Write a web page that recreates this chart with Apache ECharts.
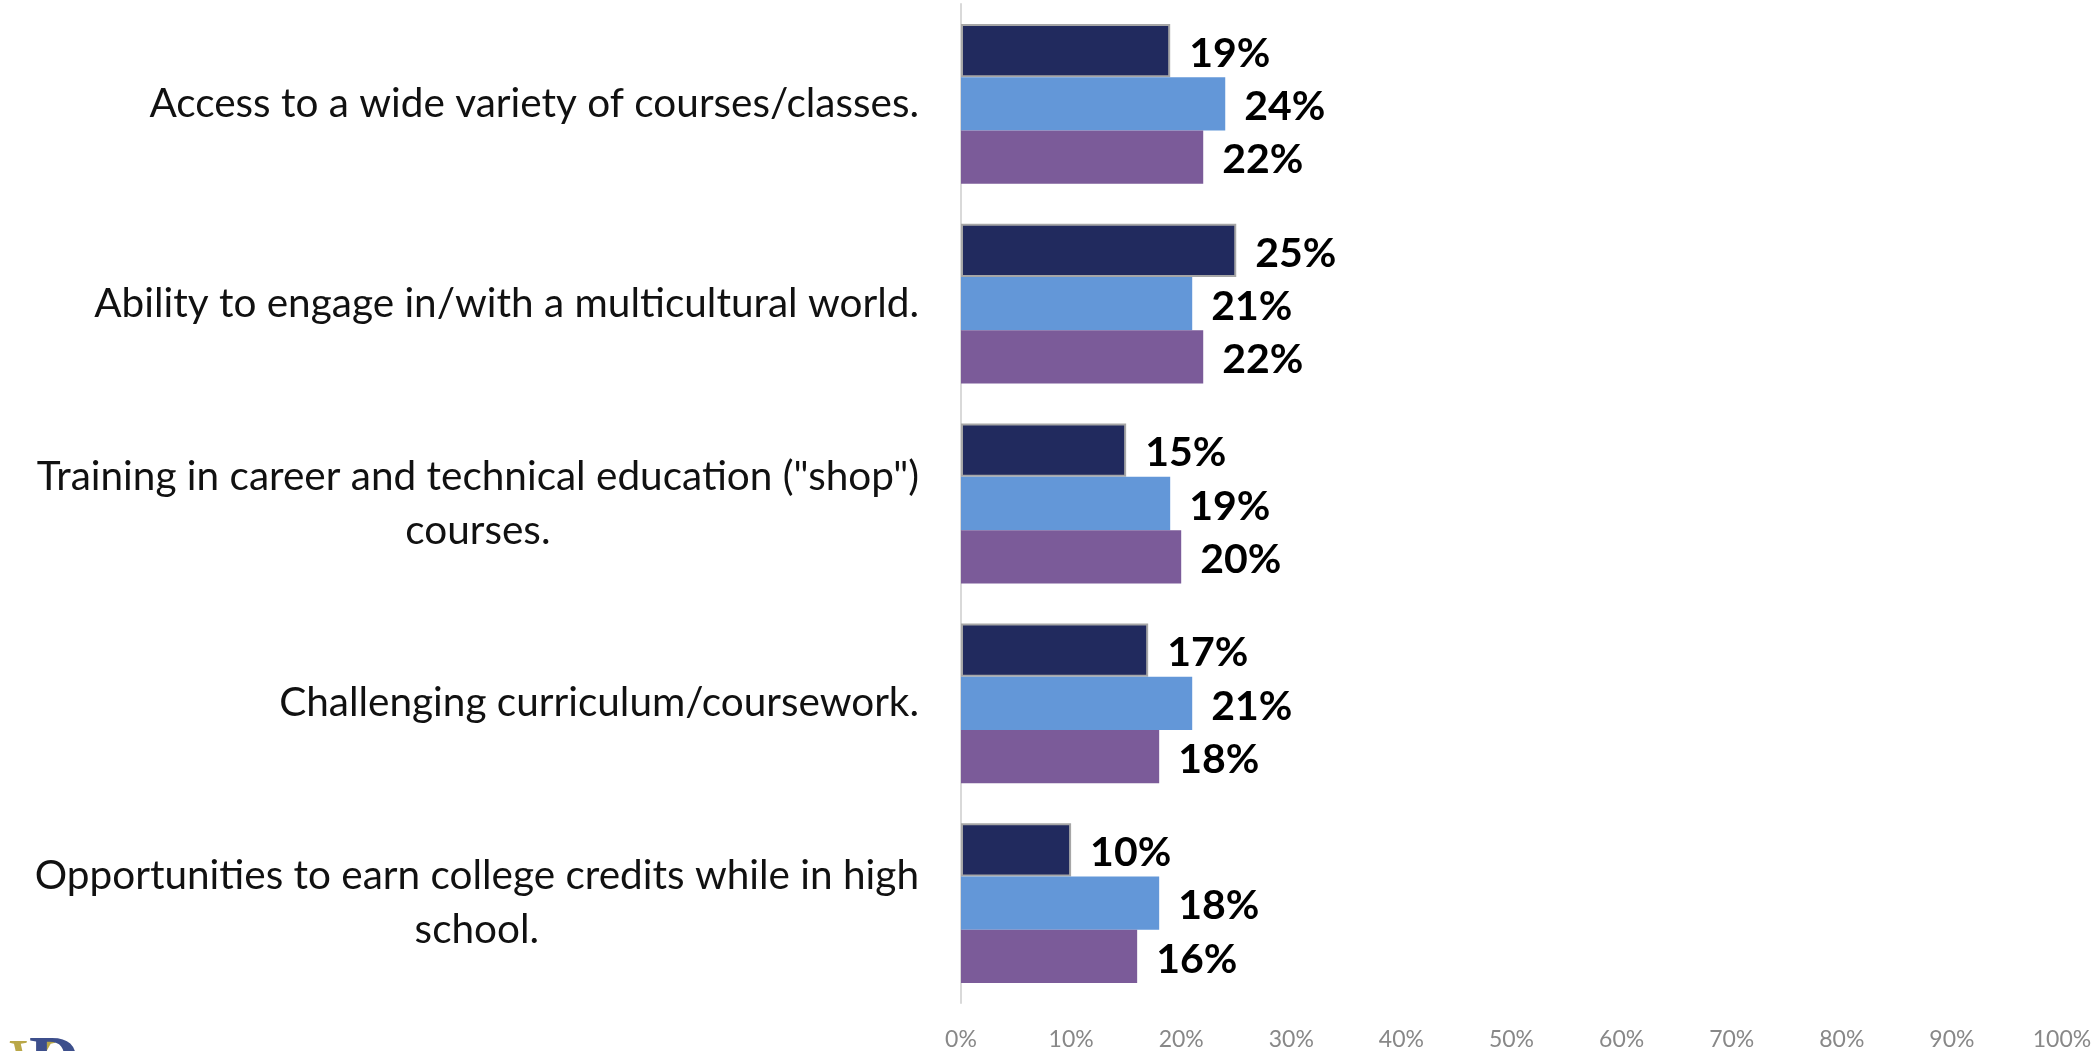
<!DOCTYPE html>
<html>
<head>
<meta charset="utf-8">
<title>School features</title>
<script src="https://cdn.jsdelivr.net/npm/echarts@6/dist/echarts.min.js"></script>
<style>
  html, body { margin: 0; padding: 0; background: #ffffff; }
  #chart { width: 2100px; height: 1051px; }
</style>
</head>
<body>
<div id="chart"></div>
<script>
// Survey items, listed top to bottom
const categories = [
  'Access to a wide variety of courses/classes.',
  'Ability to engage in/with a multicultural world.',
  'Training in career and technical education ("shop")\ncourses.',
  'Challenging curriculum/coursework.',
  'Opportunities to earn college credits while in high\nschool.'
];

// Percent of respondents, one array per group
const seriesA = [19, 25, 15, 17, 10];
const seriesB = [24, 21, 19, 21, 18];
const seriesC = [22, 22, 20, 18, 16];

const axisMin = 0;
const axisMax = 100;
const axisStep = 10;

const FONT = 'Lato';

const chart = echarts.init(document.getElementById('chart'), null, { renderer: 'canvas' });

function barSeries(name, data, color, extra) {
  return Object.assign({
    name: name,
    type: 'bar',
    data: data,
    barGap: '0%',
    barCategoryGap: '20%',
    itemStyle: { color: color },
    label: {
      show: true,
      position: 'right',
      distance: 19,
      offset: [0, 3],
      formatter: '{c}%',
      fontFamily: FONT,
      fontWeight: 'bold',
      fontSize: 41,
      color: '#000000'
    }
  }, extra || {});
}

chart.setOption({
  backgroundColor: '#ffffff',
  animation: false,
  grid: { left: 961, right: 38, top: 4, bottom: 45, containLabel: false },
  xAxis: {
    type: 'value',
    min: axisMin,
    max: axisMax,
    interval: axisStep,
    axisLine: { show: false },
    axisTick: { show: false },
    splitLine: { show: false },
    axisLabel: {
      formatter: '{value}%',
      color: '#888888',
      fontFamily: FONT,
      fontSize: 23,
      margin: 25
    }
  },
  yAxis: {
    type: 'category',
    data: categories,
    inverse: true,
    axisLine: { show: true, lineStyle: { color: '#d9d9d9', width: 2 } },
    axisTick: { show: false },
    axisLabel: {
      margin: 42,
      align: 'right',
      formatter: function (v) {
        return v.split('\n').map(function (l) { return '{c|' + l + '}'; }).join('\n');
      },
      rich: {
        c: {
          align: 'center',
          fontFamily: FONT,
          fontSize: 40.5,
          lineHeight: 54,
          color: '#111111'
        }
      }
    }
  },
  series: [
    barSeries('Group A', seriesA, '#212A5E', {
      itemStyle: { color: '#212A5E', borderColor: '#A6A6A6', borderWidth: 2 }
    }),
    barSeries('Group B', seriesB, '#6397D8'),
    barSeries('Group C', seriesC, '#7B5B99')
  ],
  graphic: [
    {
      type: 'text',
      left: 6,
      top: 1034,
      silent: true,
      style: {
        text: 'V',
        fontFamily: 'Liberation Serif',
        fontStyle: 'italic',
        fontSize: 70,
        fill: '#B9A748'
      }
    },
    {
      type: 'text',
      left: 29,
      top: 1031,
      silent: true,
      style: {
        text: 'D',
        fontFamily: 'Liberation Serif',
        fontWeight: 'bold',
        fontSize: 70,
        fill: '#3D4F8C'
      }
    }
  ]
});
</script>
</body>
</html>
